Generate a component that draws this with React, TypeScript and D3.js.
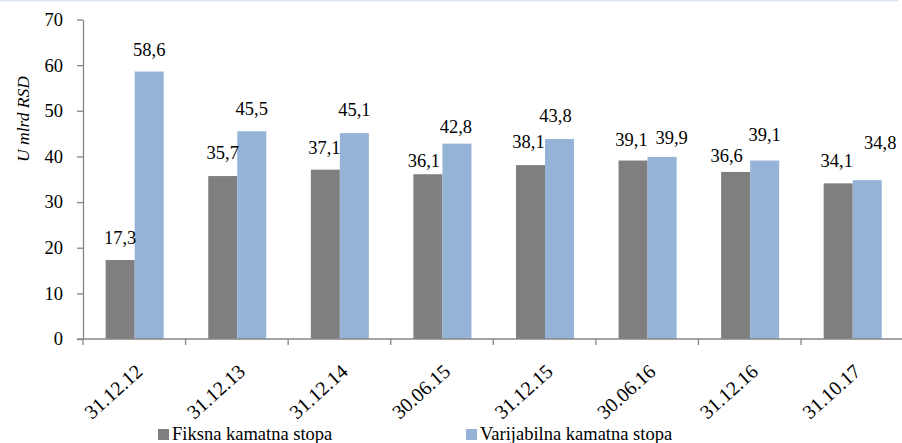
import React, { useEffect, useRef } from "react";
import * as d3 from "d3";

const dates = ["31.12.12", "31.12.13", "31.12.14", "30.06.15", "31.12.15", "30.06.16", "31.12.16", "31.10.17"];
const fixedRate = [17.3, 35.7, 37.1, 36.1, 38.1, 39.1, 36.6, 34.1];
const variableRate = [58.6, 45.5, 45.1, 42.8, 43.8, 39.9, 39.1, 34.8];
const seriesNames = ["Fiksna kamatna stopa", "Varijabilna kamatna stopa"];
const seriesColors = ["#7f7f7f", "#95b3d7"];
const yTicks = [0, 10, 20, 30, 40, 50, 60, 70];
// small nudges of the value labels, as they were placed in the original
const fixedLabelDx = [0, 0, -1, -4, -2, -1.5, -9, -1.5];
const fixedLabelDy = [0, -1.4, 0, 8.5, -0.7, 1, 6, 0];
const variableLabelDx = [0, 0, 0, -1, -4, 9.5, 0, 13];
const variableLabelDy = [0, 0, -0.7, 5, -0.7, 3.3, -4, -15];

const fmt = (v: number) => v.toFixed(1).replace(".", ",");
const FONT = "'Liberation Serif', 'Times New Roman', serif";

function App() {
  const svgRef = useRef<SVGSVGElement>(null);
  const width = 902;
  const height = 443;

  useEffect(() => {
    const svg = d3.select(svgRef.current);
    svg.selectAll("*").remove();

    const plot = { left: 83, right: 903.6, top: 19.5, bottom: 339 };

    const x = d3.scaleBand().domain(dates).range([plot.left, plot.right]).padding(0);
    const inner = d3
      .scaleBand()
      .domain(["0", "1"])
      .range([x.bandwidth() * 0.221, x.bandwidth() * 0.787])
      .padding(0);
    const y = d3.scaleLinear().domain([0, 70]).range([plot.bottom, plot.top]);

    // thin top rule
    svg
      .append("line")
      .attr("x1", 0)
      .attr("x2", 898)
      .attr("y1", 0.5)
      .attr("y2", 0.5)
      .attr("stroke", "#dce6f2")
      .attr("stroke-width", 1.5);

    // bars
    const series = [fixedRate, variableRate];
    series.forEach((vals, s) => {
      svg
        .append("g")
        .attr("fill", seriesColors[s])
        .selectAll("rect")
        .data(vals)
        .join("rect")
        .attr("x", (d, i) => x(dates[i])! + inner(String(s))!)
        .attr("width", inner.bandwidth())
        .attr("y", (d) => y(d))
        .attr("height", (d) => y(0) - y(d));
    });

    // value labels
    const dxs = [fixedLabelDx, variableLabelDx];
    const dys = [fixedLabelDy, variableLabelDy];
    series.forEach((vals, s) => {
      svg
        .append("g")
        .selectAll("text")
        .data(vals)
        .join("text")
        .attr("x", (d, i) => x(dates[i])! + inner(String(s))! + inner.bandwidth() / 2 + dxs[s][i])
        .attr("y", (d, i) => y(d) - 16 + dys[s][i])
        .attr("text-anchor", "middle")
        .style("font-family", FONT)
        .style("font-size", "18.5px")
        .attr("fill", "#000")
        .text((d) => fmt(d));
    });

    // y axis
    const yAxis = svg
      .append("g")
      .attr("transform", `translate(${plot.left},0)`)
      .call(d3.axisLeft(y).tickValues(yTicks).tickSize(6).tickSizeOuter(0).tickPadding(14));
    yAxis.select(".domain").attr("stroke", "#868686").attr("stroke-width", 1.3);
    yAxis.selectAll(".tick line").attr("stroke", "#868686").attr("stroke-width", 1.3);
    yAxis
      .selectAll(".tick text")
      .style("font-family", FONT)
      .style("font-size", "18.5px")
      .attr("fill", "#000");

    // x axis
    const xAxisG = svg.append("g").attr("transform", `translate(0,${plot.bottom})`);
    xAxisG
      .append("line")
      .attr("x1", plot.left - 6)
      .attr("x2", width)
      .attr("stroke", "#868686")
      .attr("stroke-width", 1.3);
    xAxisG
      .selectAll("line.tk")
      .data(dates)
      .join("line")
      .attr("class", "tk")
      .attr("x1", (d) => x(d)!)
      .attr("x2", (d) => x(d)!)
      .attr("y1", 0)
      .attr("y2", 6)
      .attr("stroke", "#868686")
      .attr("stroke-width", 1.3);
    xAxisG
      .selectAll("text")
      .data(dates)
      .join("text")
      .attr("transform", (d) => `translate(${x(d)! + x.bandwidth() / 2 + 5},${29}) rotate(-42)`)
      .attr("text-anchor", "end")
      .attr("dy", "0.35em")
      .style("font-family", FONT)
      .style("font-size", "20px")
      .attr("fill", "#000")
      .text((d) => d);

    // y axis title
    svg
      .append("text")
      .attr("transform", `translate(29,119) rotate(-90)`)
      .attr("text-anchor", "middle")
      .style("font-family", FONT)
      .style("font-size", "17.5px")
      .style("font-style", "italic")
      .text("U mlrd RSD");

    // legend
    const legendX = [158, 466];
    const legend = svg
      .append("g")
      .selectAll("g")
      .data(seriesNames)
      .join("g")
      .attr("transform", (d, i) => `translate(${legendX[i]},429)`);
    legend
      .append("rect")
      .attr("width", 11)
      .attr("height", 11)
      .attr("fill", (d, i) => seriesColors[i]);
    legend
      .append("text")
      .attr("x", 14)
      .attr("y", 11)
      .style("font-family", FONT)
      .style("font-size", "18.5px")
      .attr("fill", "#000")
      .text((d) => d);
  }, []);

  return (
    <svg
      ref={svgRef}
      width={width}
      height={height}
      style={{ position: "absolute", left: 0, top: 0, background: "#fff" }}
    ></svg>
  );
}

export default App;
